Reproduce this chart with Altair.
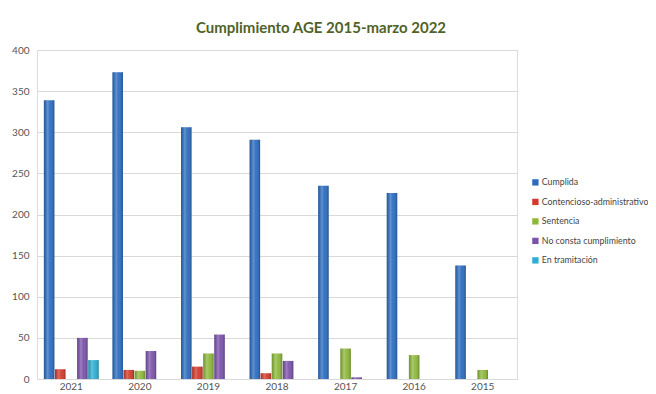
import altair as alt
import pandas as pd

years = ["2021", "2020", "2019", "2018", "2017", "2016", "2015"]
series = ["Cumplida", "Contencioso-administrativo", "Sentencia",
          "No consta cumplimiento", "En tramitación"]
cumplida = [339, 373, 306, 291, 235, 226, 138]
contencioso = [12, 11, 15, 7, 0, 0, 0]
sentencia = [0, 10, 31, 31, 37, 29, 11]
no_consta = [50, 34, 54, 22, 2, 0, 0]
tramitacion = [23, 0, 0, 0, 0, 0, 0]
colors = ["#2B6CBF", "#D23B2C", "#8DB83A", "#7B52AB", "#2EAED0"]

rows = []
for vals, s in zip([cumplida, contencioso, sentencia, no_consta, tramitacion], series):
    for y, v in zip(years, vals):
        rows.append({"year": y, "serie": s, "value": v})
df = pd.DataFrame(rows)

x = alt.X("year:N", sort=years, title=None,
          scale=alt.Scale(paddingInner=0.2, paddingOuter=0.1),
          axis=alt.Axis(labelAngle=0, labelFontSize=10, labelColor="#555555",
                        domain=False, ticks=False, labelPadding=2, labelFont="Lato"))
xo = alt.XOffset("serie:N", sort=series, scale=alt.Scale(paddingInner=0.05))
y = alt.Y("value:Q", title=None,
          scale=alt.Scale(domain=[0, 400]),
          axis=alt.Axis(values=[0, 50, 100, 150, 200, 250, 300, 350, 400],
                        labelFontSize=10, labelColor="#555555", labelFont="Lato",
                        domain=False, ticks=False, gridColor="#d9d9d9",
                        labelPadding=8))

bars = alt.Chart(df).mark_bar().encode(
    x=x, xOffset=xo, y=y,
    color=alt.Color("serie:N", sort=series,
                    scale=alt.Scale(domain=series, range=colors),
                    legend=alt.Legend(title=None, orient="none", legendX=494,
                                      legendY=128, symbolType="square",
                                      symbolSize=40, labelFontSize=8.8,
                                      labelFont="Lato", labelColor="#444444",
                                      labelOffset=2, labelLimit=200,
                                      rowPadding=9.5, symbolStrokeWidth=0))
)

shine = alt.Chart(df).mark_bar(
    color=alt.Gradient(
        gradient="linear", x1=0, x2=1, y1=0, y2=0,
        stops=[alt.GradientStop(offset=0, color="rgba(0,0,0,0.18)"),
               alt.GradientStop(offset=0.35, color="rgba(255,255,255,0.25)"),
               alt.GradientStop(offset=0.6, color="rgba(255,255,255,0.05)"),
               alt.GradientStop(offset=1, color="rgba(0,0,0,0.25)")])
).encode(x=x, xOffset=xo, y=y)

chart = alt.layer(bars, shine).properties(
    width=480, height=329,
    autosize=alt.AutoSizeParams(type="none"),
    padding={"left": 29, "top": 42, "right": 131, "bottom": 15},
    title=alt.TitleParams("Cumplimiento AGE 2015-marzo 2022",
                          font="Lato",
                          fontSize=15, fontWeight="bold", color="#4F6228",
                          anchor="middle", dx=44, offset=9),
).configure_view(stroke=None).configure(background="white")

chart.save("out.html", embed_options={"renderer": "svg", "actions": False})
